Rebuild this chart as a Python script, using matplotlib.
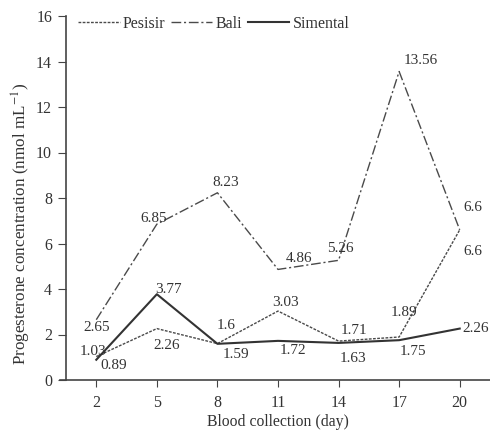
import matplotlib
matplotlib.use('Agg')
import matplotlib.pyplot as plt

# Data
days = [2, 5, 8, 11, 14, 17, 20]
pesisir = [1.03, 2.26, 1.6, 3.03, 1.71, 1.89, 6.6]
bali = [2.65, 6.85, 8.23, 4.86, 5.26, 13.56, 6.6]
simental = [0.89, 3.77, 1.59, 1.72, 1.63, 1.75, 2.26]

# label offsets (pixels) for the value annotations
pesisir_off = [(-3, 5), (10, -17), (9, 18), (7, 9), (15, 11), (5, 25), (13, -22)]
bali_off = [(0, -8), (-3, 6), (8, 10), (21, 11), (2, 12), (22, 11), (13, 22)]
simental_off = [(17, -6), (12, 5), (19, -11), (15, -10), (14, -16), (14, -11), (16, 0)]

plt.rcParams['font.family'] = ['Liberation Serif', 'DejaVu Serif']
plt.rcParams['mathtext.fontset'] = 'stix'
plt.rcParams['font.size'] = 11

text_color = '#333333'

fig = plt.figure(figsize=(4.9, 4.34), dpi=100)
ax = fig.add_axes([66 / 490, 1 - 380 / 434, 1 - 66 / 490, (380 - 16) / 434])

ax.plot(days, pesisir, color='#4a4a4a', linewidth=1.0, linestyle=(0, (2, 1)), label='Pesisir')
ax.plot(days, bali, color='#4a4a4a', linewidth=1.0, linestyle=(0, (7, 2, 1.5, 2)), label='Bali')
ax.plot(days, simental, color='#333333', linewidth=1.5, linestyle='-', label='Simental')

for series, offs in [(bali, bali_off), (pesisir, pesisir_off), (simental, simental_off)]:
    for d, v, (dx, dy) in zip(days, series, offs):
        ax.annotate(f'{v:g}', (d, v), xytext=(dx, dy), textcoords='offset pixels',
                    ha='center', va='center', color=text_color, fontsize=11)

ax.set_xlim(0.5, 21.5)
ax.set_ylim(0, 16)
ax.set_xticks(days)
ax.set_yticks(range(0, 17, 2))

for side in ['top', 'right']:
    ax.spines[side].set_visible(False)
for side in ['left', 'bottom']:
    ax.spines[side].set_color('#444444')
    ax.spines[side].set_linewidth(1.2)
ax.spines['bottom'].set_bounds(0.2, 21.5)
ax.tick_params(direction='out', colors='#444444', labelcolor=text_color, labelsize=11.5)
ax.tick_params(axis='y', length=6, pad=4)
ax.tick_params(axis='x', length=5, pad=6)

ax.set_xlabel('Blood collection (day)', color=text_color, fontsize=11.3, labelpad=2)
ax.set_ylabel('Progesterone concentration (nmol mL$^{-1}$)', color=text_color, fontsize=12.3)
ax.yaxis.set_label_coords(-0.078, 0.43)

leg = ax.legend(loc='upper left', bbox_to_anchor=(12 / 424, 1.0), ncol=3, frameon=False,
                borderaxespad=0, borderpad=0,
                handlelength=2.6, handletextpad=0.2, columnspacing=0.35, fontsize=11.5)
for t in leg.get_texts():
    t.set_color(text_color)

fig.savefig('out.png', dpi=100)
